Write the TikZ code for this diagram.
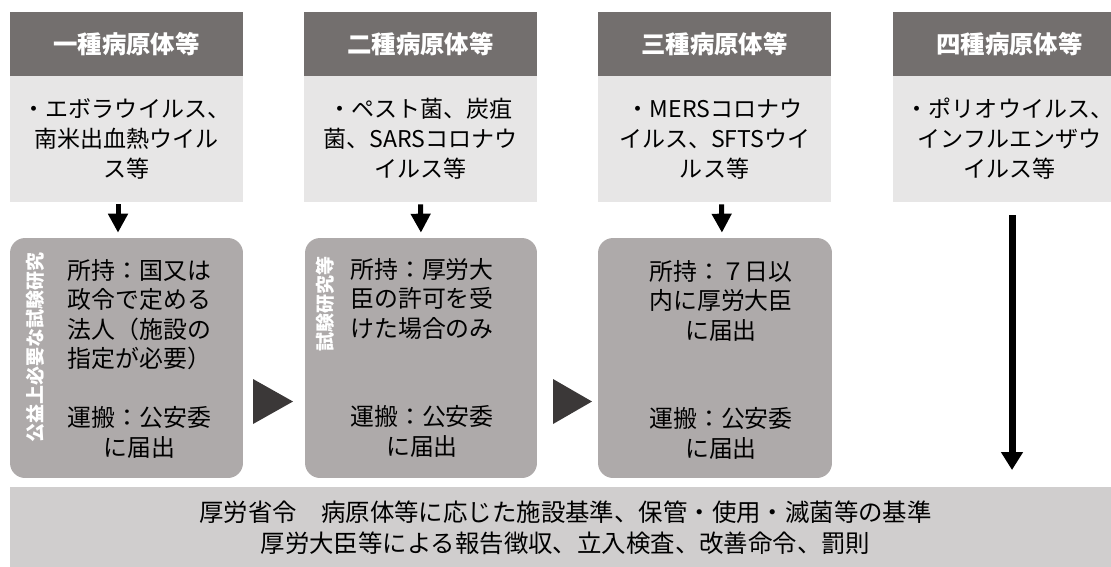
\documentclass[tikz,border=0pt]{standalone}
\usepackage{fontspec}
\setmainfont{Noto Sans CJK JP}
\usepackage{tikz}
\usetikzlibrary{%
  positioning,%
  arrows.meta%
}
\definecolor{headgray}{HTML}{736F6E}
\definecolor{lightgray}{HTML}{E7E6E6}
\definecolor{boxgray}{HTML}{AEAAAA}
\definecolor{basegray}{HTML}{D0CECE}
\definecolor{trigray}{HTML}{3B3838}

\begin{document}
\begin{tikzpicture}[x=0.02cm,y=-0.02cm,
		every node/.style={inner sep=0pt,align=center},
		head/.style={fill=headgray,text=white,minimum width=4.66cm,minimum height=1.28cm,
			font=\fontsize{13.9}{16}\selectfont\bfseries},
		kind/.style={fill=lightgray,minimum width=4.66cm,minimum height=2.52cm,
			font=\fontsize{13.1}{17.1}\selectfont},
		rule/.style={fill=boxgray,rounded corners=0.3cm,minimum height=4.8cm},
		body/.style={font=\fontsize{13.6}{16.8}\selectfont},
		side/.style={rotate=90,anchor=east,text=white,font=\fontsize{10.8}{12}\selectfont\bfseries},
		down/.style={line width=0.1cm,shorten <=0.04cm,shorten >=0.1cm,
			-{Triangle[width=0.38cm,length=0.38cm]}},
		longdown/.style={line width=0.14cm,shorten <=0.26cm,shorten >=0.33cm,
			-{Triangle[width=0.42cm,length=0.36cm]}},
		next/.style={fill=trigray}
	]
		\clip (0,0) rectangle (1111,566);
		\useasboundingbox (0,0) rectangle (1111,566);
		%
		\node[head] (h1) at (126.5,44) {一種病原体等};
		\node[head] (h2) at (420.5,44) {二種病原体等};
		\node[head] (h3) at (714.5,44) {三種病原体等};
		\node[head] (h4) at (1009.5,44) {四種病原体等};
		%
		\node[kind] (l1) at (126.5,139) {・エボラウイルス、\\南米出血熱ウイル\\ス等};
		\node[kind] (l2) at (420.5,139) {・ペスト菌、炭疽\\菌、SARSコロナウ\\イルス等};
		\node[kind] (l3) at (714.5,139) {・MERSコロナウ\\イルス、SFTSウイ\\ルス等};
		\node[kind] (l4) at (1009.5,139) {・ポリオウイルス、\\インフルエンザウ\\イルス等};
		%
		\node[rule,minimum width=4.66cm] (g1) at (126.5,358) {};
		\node[rule,minimum width=4.64cm] (g2) at (421,358) {};
		\node[rule,minimum width=4.68cm] (g3) at (715,358) {};
		%
		\node[body] (p1) at (139.5,358.5) {所持：国又は\\政令で定める\\法人（施設の\\指定が必要）\\ \\運搬：公安委\\に届出};
		\node[body] (p2) at (422,357.5) {所持：厚労大\\臣の許可を受\\けた場合のみ\\ \\ \\運搬：公安委\\に届出};
		\node[body] (p3) at (721,359.5) {所持：７日以\\内に厚労大臣\\に届出\\ \\ \\運搬：公安委\\に届出};
		%
		\node[side] (s1) at (35,252) {公益上必要な試験研究};
		\node[side] (s2) at (325,256) {試験研究等};
		%
		\node[fill=basegray,minimum width=22.22cm,minimum height=1.64cm,
			font=\fontsize{13.9}{17.6}\selectfont] (base) at (565.5,527.5)
			{厚労省令　病原体等に応じた施設基準、保管・使用・滅菌等の基準\\厚労大臣等による報告徴収、立入検査、改善命令、罰則};
		\coordinate (top4) at (1012,202);
		\coordinate (end4) at (1012,486.5);
		%
		\draw
			%Vertical arrows
			([xshift=-0.17cm]l1.south) edge[down] ([xshift=-0.17cm]g1.north)
			(l2.south) edge[down] (g2.north)
			([xshift=0.14cm]l3.south) edge[down] ([xshift=0.14cm]g3.north)
			(top4) edge[longdown] (end4)
		;
		%Next marks
		\fill[next] (253,379) -- (293,401.5) -- (253,424) -- cycle;
		\fill[next] (553,379) -- (592,401.5) -- (553,424) -- cycle;
		
	\end{tikzpicture}
\end{document}
